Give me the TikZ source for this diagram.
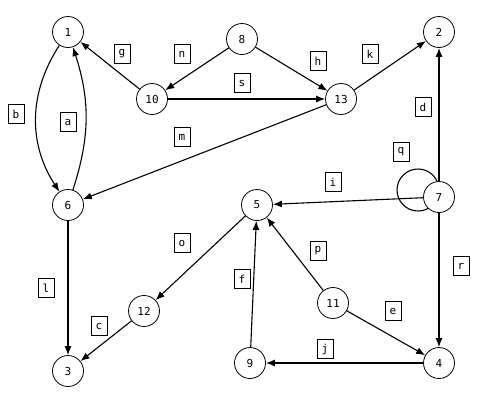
\documentclass[tikz,border=0pt]{standalone}
\usepackage{fontspec}
\setmonofont{DejaVu Sans Mono}
\usetikzlibrary{arrows.meta}
\begin{document}
\begin{tikzpicture}[x=1pt,y=-1pt,
 vtx/.style={circle,draw,fill=white,minimum size=31pt,inner sep=0pt,line width=0.8pt,font=\ttfamily\fontsize{11}{13}\selectfont},
 lbl/.style={draw,inner sep=0pt,minimum width=16pt,minimum height=19pt,line width=0.8pt,font=\ttfamily\fontsize{11}{13}\selectfont},
 arr/.style={-{Latex[length=9pt,width=7pt]},line width=1.1pt}]
\useasboundingbox[fill=white] (0,0) rectangle (494,405);
\coordinate (qc) at (418,190);
\draw[line width=1.1pt] (qc) circle (21);
\node[vtx] (n1) at (68,32) {1};
\node[vtx] (n2) at (439,32) {2};
\node[vtx] (n8) at (242,39) {8};
\node[vtx] (n10) at (152,99) {10};
\node[vtx] (n13) at (341,99) {13};
\node[vtx] (n6) at (68,205) {6};
\node[vtx] (n5) at (257,205) {5};
\node[vtx] (n7) at (439,197) {7};
\node[vtx] (n12) at (144,311) {12};
\node[vtx] (n11) at (333,303) {11};
\node[vtx] (n3) at (68,371) {3};
\node[vtx] (n9) at (250,363) {9};
\node[vtx] (n4) at (439,363) {4};
\draw[arr] (n1) to[bend right=33] (n6);
\draw[arr] (n6) to[bend right=18] (n1);
\draw[arr] (n10) -- (n1);
\draw[arr] (n8) -- (n10);
\draw[arr] (n8) -- (n13);
\draw[arr] (n10) -- (n13);
\draw[arr] (n13) -- (n2);
\draw[arr] (n13) -- (n6);
\draw[arr] (n7) -- (n2);
\draw[arr] (n7) -- (n5);
\draw[arr] (n7) -- (n4);
\draw[arr] (n5) -- (n12);
\draw[arr] (n6) -- (n3);
\draw[arr] (n12) -- (n3);
\draw[arr] (n9) -- (n5);
\draw[arr] (n11) -- (n5);
\draw[arr] (n11) -- (n4);
\draw[arr] (n4) -- (n9);
\node[lbl] (lg) at (122,54) {g};
\node[lbl] (ln) at (182,54) {n};
\node[lbl] (lb) at (16,114) {b};
\node[lbl] (la) at (68,122) {a};
\node[lbl] (ls) at (242,83) {s};
\node[lbl] (lm) at (182,137) {m};
\node[lbl] (lh) at (318,61) {h};
\node[lbl] (lk) at (370,54) {k};
\node[lbl] (ld) at (423,107) {d};
\node[lbl] (lq) at (401,152) {q};
\node[lbl] (li) at (333,182) {i};
\node[lbl] (lo) at (182,243) {o};
\node[lbl] (ll) at (46,288) {l};
\node[lbl] (lc) at (99,326) {c};
\node[lbl] (lf) at (242,279) {f};
\node[lbl] (lp) at (318,251) {p};
\node[lbl] (lr) at (461,266) {r};
\node[lbl] (le) at (393,311) {e};
\node[lbl] (lj) at (325,349) {j};
\end{tikzpicture}
\end{document}
